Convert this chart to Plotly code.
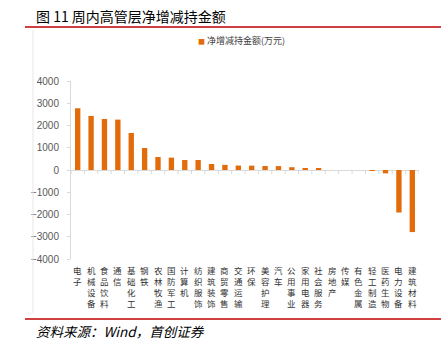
import plotly.graph_objects as go

categories = ["电子", "机械设备", "食品饮料", "通信", "基础化工", "钢铁", "农林牧渔", "国防军工",
              "计算机", "纺织服饰", "建筑装饰", "商贸零售", "交通运输", "环保", "美容护理", "汽车",
              "公用事业", "家用电器", "社会服务", "房地产", "传媒", "有色金属", "轻工制造",
              "医药生物", "电力设备", "建筑材料"]
values = [2775, 2430, 2295, 2265, 1665, 990, 585, 555, 450, 450, 270, 230, 200, 195, 180, 175,
          125, 75, 70, 0, 0, 0, -30, -150, -1910, -2790]
y_ticks = [-4000, -3000, -2000, -1000, 0, 1000, 2000, 3000, 4000]

series_name = "净增减持金额(万元)"
title_text = "图 11 周内高管层净增减持金额"
source_text = "资料来源：Wind，首创证券"

W, H = 447, 340
L, R, T, B = 71, 419, 81, 259
ORANGE = "#E36C0A"
GRID = "#D9D9D9"
CJK = "Noto Sans CJK SC"


def px_x(px):
    return (px - L) / (R - L)


def px_y(py):
    return (B - py) / (B - T)


fig = go.Figure()
fig.add_trace(go.Bar(x=categories, y=values, marker=dict(color=ORANGE, line=dict(width=0)),
                     name=series_name, showlegend=False))

shapes = []
# tick marks on the zero line between categories
for i in range(len(categories) + 1):
    shapes.append(dict(type="line", xref="x", yref="y", x0=i - 0.5, x1=i - 0.5,
                       ysizemode="pixel", yanchor=0, y0=0, y1=-4,
                       line=dict(color=GRID, width=1)))
# red rules
shapes.append(dict(type="line", xref="paper", yref="paper", x0=px_x(25), x1=px_x(441),
                   y0=px_y(27), y1=px_y(27), line=dict(color="#C00000", width=1.5)))
shapes.append(dict(type="line", xref="paper", yref="paper", x0=px_x(25), x1=px_x(441),
                   y0=px_y(319), y1=px_y(319), line=dict(color="#C00000", width=1.5)))
# faint frame line on the left
shapes.append(dict(type="line", xref="paper", yref="paper", x0=px_x(33), x1=px_x(33),
                   y0=px_y(30), y1=px_y(313), line=dict(color="#E6E6E6", width=1)))

annotations = []
for cat in categories:
    annotations.append(dict(x=cat, xref="x", y=0, yref="paper", yanchor="top",
                            xanchor="center", yshift=-4, text="<br>".join(cat),
                            showarrow=False, borderpad=0,
                            font=dict(family=CJK, size=8.5, color="#333333")))

annotations.append(dict(xref="paper", yref="paper", x=px_x(196), y=px_y(41),
                        xanchor="left", yanchor="middle", showarrow=False,
                        text=f"<span style='color:{ORANGE};font-size:7px'>■</span> {series_name}",
                        font=dict(family=CJK, size=9, color="#404040")))
annotations.append(dict(xref="paper", yref="paper", x=px_x(34), y=px_y(16),
                        xanchor="left", yanchor="middle", showarrow=False,
                        text=title_text,
                        font=dict(family=CJK, size=14, color="#000000")))
annotations.append(dict(xref="paper", yref="paper", x=px_x(34), y=px_y(331),
                        xanchor="left", yanchor="middle", showarrow=False,
                        text=f"<i>{source_text}</i>",
                        font=dict(family=CJK, size=13.5, color="#000000")))

fig.update_layout(
    width=W, height=H,
    margin=dict(l=L, r=W - R, t=T, b=H - B, pad=0),
    paper_bgcolor="white", plot_bgcolor="white",
    bargap=0.6,
    showlegend=False,
    shapes=shapes,
    annotations=annotations,
    xaxis=dict(type="category", showticklabels=False, showline=False, ticks="",
               showgrid=False, zeroline=False, range=[-0.5, len(categories) - 0.5]),
    yaxis=dict(range=[-4000, 4000], tickvals=y_ticks, showgrid=False,
               zeroline=True, zerolinecolor=GRID, zerolinewidth=1,
               showline=True, linecolor=GRID, linewidth=1,
               ticks="outside", ticklen=3, tickcolor=GRID,
               ticklabelstandoff=6,
               tickfont=dict(family="Liberation Sans", size=10, color="#595959")),
)

fig.write_html("out.html")
